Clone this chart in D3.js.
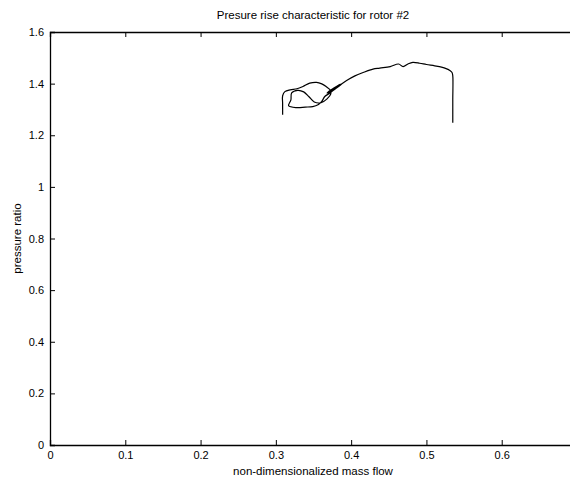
<!DOCTYPE html>
<html>
<head>
<meta charset="utf-8">
<script src="https://cdn.jsdelivr.net/npm/d3@7"></script>
<style>
  body { margin: 0; background: #fff; }
  text { font-family: "Liberation Sans", Arial, Helvetica, sans-serif; fill: #000; }
</style>
</head>
<body>
<div id="chart"></div>
<script>
// traced pressure-ratio trace (mass flow, pressure ratio)
const massFlow = [
  0.309, 0.309, 0.309, 0.312, 0.319, 0.328, 0.336, 0.345, 0.354, 0.361,
  0.367, 0.372, 0.373, 0.368, 0.360, 0.351, 0.344, 0.337, 0.329, 0.321,
  0.320, 0.317, 0.328, 0.339, 0.349, 0.356, 0.361, 0.365, 0.371, 0.380,
  0.388, 0.381, 0.368, 0.373, 0.382, 0.394, 0.405, 0.416, 0.429, 0.438,
  0.452, 0.463, 0.469, 0.476, 0.482, 0.491, 0.500, 0.511, 0.520, 0.527,
  0.531, 0.534, 0.535, 0.535, 0.535
];
const pressureRatio = [
  1.279, 1.322, 1.353, 1.369, 1.376, 1.380, 1.389, 1.402, 1.405, 1.399,
  1.388, 1.376, 1.360, 1.341, 1.326, 1.329, 1.349, 1.368, 1.374, 1.364,
  1.337, 1.314, 1.307, 1.309, 1.311, 1.318, 1.331, 1.350, 1.362, 1.382,
  1.399, 1.390, 1.364, 1.370, 1.388, 1.412, 1.430, 1.443, 1.456, 1.460,
  1.466, 1.476, 1.466, 1.477, 1.482, 1.479, 1.474, 1.469, 1.464, 1.457,
  1.451, 1.443, 1.430, 1.337, 1.248
];
const xTicks = [0, 0.1, 0.2, 0.3, 0.4, 0.5, 0.6];
const yTicks = [0, 0.2, 0.4, 0.6, 0.8, 1, 1.2, 1.4, 1.6];

const W = 570, H = 483;
const margin = { top: 32, right: -7, bottom: 38, left: 50 };

const svg = d3.select("#chart").append("svg")
  .attr("width", W)
  .attr("height", H)
  .style("display", "block");

svg.append("rect").attr("width", W).attr("height", H).attr("fill", "#fff");

const x = d3.scaleLinear().domain([0, 0.7]).range([margin.left, W - margin.right]);
const y = d3.scaleLinear().domain([0, 1.6]).range([H - margin.bottom, margin.top]);

const fmt = d => d === 0 ? "0" : (d === 1 ? "1" : d3.format(".1f")(d));

// axes (matlab style, ticks pointing inward)
const gx = svg.append("g")
  .attr("transform", `translate(0,${y(0)})`)
  .call(d3.axisBottom(x).tickValues(xTicks).tickSize(-5).tickPadding(6).tickFormat(fmt));
const gxTop = svg.append("g")
  .attr("transform", `translate(0,${y(1.6)})`)
  .call(d3.axisTop(x).tickValues(xTicks).tickSize(-5).tickFormat(""));
const gy = svg.append("g")
  .attr("transform", `translate(${x(0)},0)`)
  .call(d3.axisLeft(y).tickValues(yTicks).tickSize(-5).tickPadding(6).tickFormat(fmt));

[gx, gxTop, gy].forEach(g => {
  g.select(".domain").attr("stroke", "#000").attr("stroke-width", 1.3);
  g.selectAll(".tick line").attr("stroke", "#000").attr("stroke-width", 1);
  g.selectAll("text").style("font-size", "11px").style("font-family", "Liberation Sans, Arial, sans-serif").attr("fill", "#000");
});

// data line
const pts = massFlow.map((m, i) => [m, pressureRatio[i]]);
svg.append("path")
  .datum(pts)
  .attr("fill", "none")
  .attr("stroke", "#000")
  .attr("stroke-width", 1.2)
  .attr("stroke-linejoin", "round")
  .attr("d", d3.line().x(d => x(d[0])).y(d => y(d[1])).curve(d3.curveCatmullRom.alpha(0.5)));

// labels
svg.append("text")
  .attr("x", 313).attr("y", 19)
  .attr("text-anchor", "middle")
  .style("font-size", "11.5px")
  .text("Presure rise characteristic for rotor #2");

svg.append("text")
  .attr("x", 313).attr("y", 475)
  .attr("text-anchor", "middle")
  .style("font-size", "11.5px")
  .text("non-dimensionalized mass flow");

svg.append("text")
  .attr("transform", `translate(21,${(y(0) + y(1.6)) / 2}) rotate(-90)`)
  .attr("text-anchor", "middle")
  .style("font-size", "11.5px")
  .text("pressure ratio");
</script>
</body>
</html>
